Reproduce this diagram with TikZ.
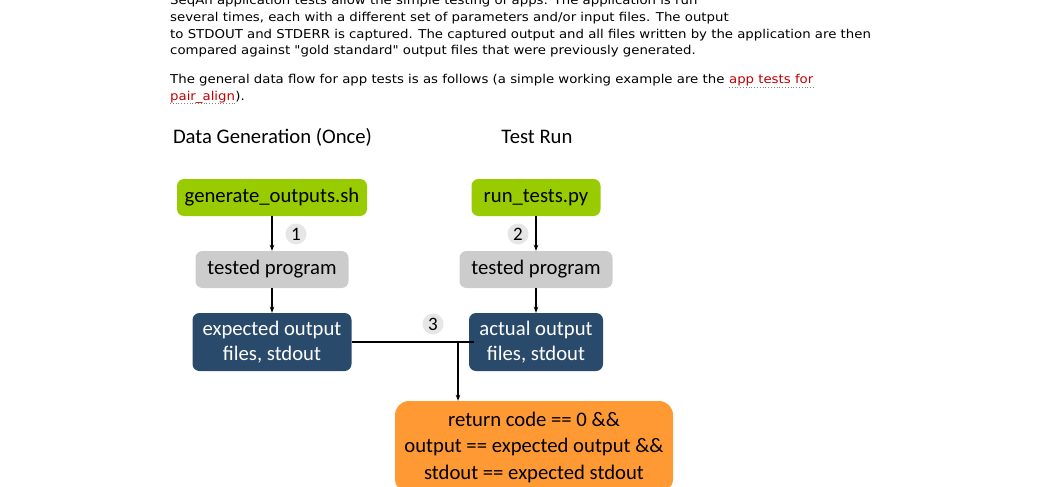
\documentclass[tikz,border=0pt]{standalone}
\usepackage{fontspec}
\setmainfont{Carlito}
\newfontfamily\webfont{DejaVu Sans}[FakeStretch=1.09]
\usetikzlibrary{arrows.meta}
\definecolor{boxgreen}{HTML}{99CC00}
\definecolor{boxgray}{HTML}{CCCCCC}
\definecolor{boxblue}{HTML}{2A4A6B}
\definecolor{boxorange}{HTML}{FF9933}
\definecolor{numgray}{HTML}{E6E6E6}
\definecolor{linkred}{HTML}{C00000}
\begin{document}
\begin{tikzpicture}[x=1pt,y=-1pt,
  para/.style={anchor=base west, inner sep=0pt, font=\webfont\fontsize{12.2}{14}\selectfont},
  link/.style={para, text=linkred},
  title/.style={anchor=base, inner sep=0pt, font=\fontsize{20.7}{24}\selectfont},
  box/.style={rounded corners=7pt, inner sep=0pt, align=center, font=\fontsize{20.7}{25.5}\selectfont},
  greenbox/.style={box, fill=boxgreen, minimum height=37pt},
  graybox/.style={box, fill=boxgray, minimum height=37pt, minimum width=153pt},
  bluebox/.style={box, fill=boxblue, text=white, minimum height=58pt},
  orangebox/.style={box, fill=boxorange, rounded corners=14pt, font=\fontsize{20.7}{26.5}\selectfont},
  num/.style={circle, fill=numgray, minimum size=21pt, inner sep=0pt, font=\fontsize{19}{19}\selectfont},
  flow/.style={line width=1.3pt, -{Stealth[length=6pt,width=4.5pt]}},
  plain/.style={line width=1.3pt}
]
\useasboundingbox (0,0) rectangle (1057,487);
\clip (0,0) rectangle (1057,487);
% paragraph text
\node[para] (l1) at (170,5) {SeqAn application tests allow the simple testing of apps: The application is run};
\node[para] (l2) at (170,21.5) {several times, each with a different set of parameters and/or input files. The output};
\node[para] (l3) at (170,38) {to STDOUT and STDERR is captured. The captured output and all files written by the application are then};
\node[para] (l4) at (170,54.5) {compared against "gold standard" output files that were previously generated.};
\node[para] (l5) at (170,84) {The general data flow for app tests is as follows (a simple working example are the};
\node[link] (lk1) at ([xshift=4.3pt]l5.base east) {app tests for};
\node[link] (lk2) at (170,100.5) {pair\_align};
\node[para] (l6) at (lk2.base east) {).};
\draw[dotted, gray, line width=0.8pt] ([yshift=-3pt]lk1.base west) -- ([yshift=-3pt]lk1.base east);
\draw[dotted, gray, line width=0.8pt] ([yshift=-3pt]lk2.base west) -- ([yshift=-3pt]lk2.base east);
% titles
\node[title] (t1) at (272.5,143) {Data Generation (Once)};
\node[title] (t2) at (537,143) {Test Run};
% boxes
\node[greenbox, minimum width=190pt] (gen) at (272,197.5) {generate\_outputs.sh};
\node[greenbox, minimum width=129pt] (run) at (536,197.5) {run\_tests.py};
\node[graybox] (tp1) at (272,269.5) {tested program};
\node[graybox] (tp2) at (536,269.5) {tested program};
\node[bluebox, minimum width=159pt] (exp) at (272,342) {expected output\\files, stdout};
\node[bluebox, minimum width=134pt] (act) at (536,342) {actual output\\files, stdout};
\node[orangebox, minimum width=278pt, minimum height=92pt] (res) at (534,447) {return code == 0 \&\&\\output == expected output \&\&\\stdout == expected stdout};
% numbers
\node[num] (n1) at (296,234) {1};
\node[num] (n2) at (518,234) {2};
\node[num] (n3) at (433,324) {3};
% connectors
\draw[flow] (gen) -- (tp1);
\draw[flow] (tp1) -- (exp);
\draw[flow] (run) -- (tp2);
\draw[flow] (tp2) -- (act);
\coordinate (joinend) at (474,342);
\coordinate (joint) at (458,342);
\draw[plain] (exp.east) -- (joinend);
\draw[flow] (joint) -- (joint |- res.north);
\end{tikzpicture}
\end{document}
